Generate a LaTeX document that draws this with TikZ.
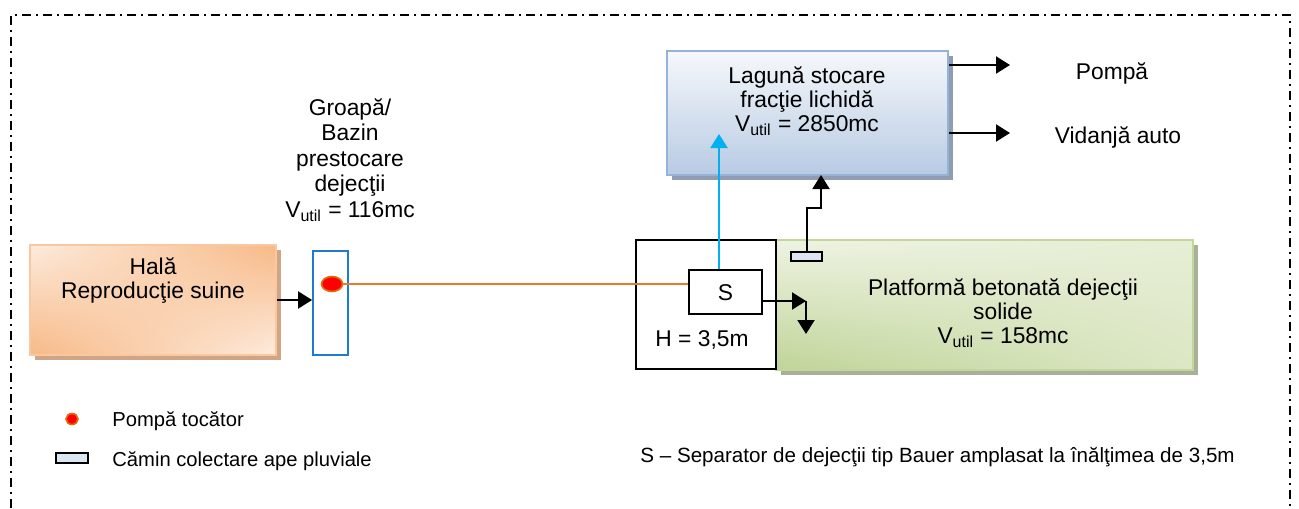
\documentclass[tikz,border=0pt]{standalone}
\usepackage{fontspec}
\setmainfont{Liberation Sans}
\usetikzlibrary{arrows.meta,shadows,shapes.geometric,shadings}
\definecolor{orD}{HTML}{F7B986}
\definecolor{orL}{HTML}{FDEBDD}
\definecolor{orB}{HTML}{F9C8A0}
\definecolor{orS}{HTML}{CFA585}
\definecolor{blT}{HTML}{F6F8FB}
\definecolor{blB}{HTML}{B8CBE3}
\definecolor{blBr}{HTML}{95B3D7}
\definecolor{blS}{HTML}{8E9DB1}
\definecolor{grUL}{HTML}{EEF3E3}
\definecolor{grUR}{HTML}{E6EED5}
\definecolor{grLL}{HTML}{C0D498}
\definecolor{grLR}{HTML}{DCE7C5}
\definecolor{grBr}{HTML}{C3D69B}
\definecolor{grS}{HTML}{A8B09A}
\definecolor{bazB}{HTML}{1F7BCB}
\definecolor{pipe}{HTML}{E87A2E}
\definecolor{sky}{HTML}{00B0F0}
\definecolor{camF}{HTML}{DCE6F2}
\definecolor{pumpB}{HTML}{E46C0A}
\begin{document}
\begin{tikzpicture}[x=0.5pt,y=-0.5pt,
  tip/.style={-{Triangle[length=7pt,width=8.5pt]}},
  arr/.style={tip, line width=1pt, black},
  plain/.style={draw, rectangle, inner sep=0pt},
  bigtxt/.style={align=center, font=\fontsize{11.4}{12}\selectfont, inner sep=0pt},
  smalltxt/.style={font=\fontsize{10.1}{12}\selectfont, inner sep=0pt},
  frame/.style={line width=1pt, dash pattern=on 4.5pt off 2.5pt on 1pt off 2.5pt},
  pump/.style={ellipse, draw=pumpB, fill=red, line width=0.8pt, inner sep=0pt},
  camin/.style={rectangle, draw=black, fill=camF, line width=0.8pt, inner sep=0pt}]
\useasboundingbox (0,0) rectangle (1299,508);

% frame
\draw[frame] (11,508) -- (11,15) -- (1290,15) -- (1290,508);

% Hala
\node[plain, draw=orB, line width=0.8pt, upper left=orL, upper right=orD, lower left=orD, lower right=orL,
      minimum width=123pt, minimum height=55pt,
      drop shadow={shadow xshift=2.5pt, shadow yshift=-2.5pt, fill=orS, opacity=1}] (hala) at (153,300) {};
\node[bigtxt] at (153,281) {Hală\\Reproducţie suine};

% Bazin
\node[plain, draw=bazB, fill=white, line width=0.9pt, minimum width=17.5pt, minimum height=52pt] (bazin) at (330.5,303) {};
\node[pump, minimum width=10.5pt, minimum height=7.5pt] (dot) at (332,284) {};
\node[bigtxt, font=\fontsize{11.4}{12.7}\selectfont] at (350,160) {Groapă/\\Bazin\\prestocare\\dejecţii\\V\textsubscript{util} = 116mc};

% Laguna
\node[plain, draw=blBr, line width=0.9pt, top color=blT, bottom color=blB,
      minimum width=140.5pt, minimum height=62pt,
      drop shadow={shadow xshift=2.5pt, shadow yshift=-2.5pt, fill=blS, opacity=1}] (lag) at (807.5,113) {};
\node[bigtxt] at (807,101.5) {Lagună stocare\\fracţie lichidă\\V\textsubscript{util} = 2850mc};

% Platforma
\node[plain, draw=grBr, line width=0.9pt, upper left=grUL, upper right=grUR, lower left=grLL, lower right=grLR,
      minimum width=208.5pt, minimum height=65pt,
      drop shadow={shadow xshift=2.5pt, shadow yshift=-2.5pt, fill=grS, opacity=1}] (plat) at (984.5,305) {};
\node[bigtxt] at (1003,313) {Platformă betonată dejecţii\\solide\\V\textsubscript{util} = 158mc};

% H box and separator
\node[plain, fill=white, line width=0.8pt, minimum width=70pt, minimum height=64.5pt] (hbox) at (706,304.5) {};
\node[plain, fill=white, line width=0.8pt, minimum width=36.5pt, minimum height=22pt] (sbox) at (725.5,292) {};
\node[bigtxt] at (725.5,293) {S};
\node[bigtxt] at (702,340) {H = 3,5m};

% camin
\node[camin, minimum width=15.5pt, minimum height=4.5pt] (cam) at (806.5,256.5) {};

% connectors
\draw[arr] (hala.east |- 0,300) -- (bazin.west |- 0,300);
\draw[pipe, line width=0.8pt] (dot.east) -- (sbox.west |- dot.east);
\coordinate (blueTip) at (719,134);
\draw[sky, line width=1pt, tip] (sbox.north -| blueTip) -- (blueTip);
\coordinate (pTip) at (1010,65);
\coordinate (vTip) at (1010,133);
\draw[arr] (pTip -| lag.east) -- (pTip);
\draw[arr] (vTip -| lag.east) -- (vTip);
\coordinate (cTip) at (821,175);
\draw[arr] (cam.north) -- ++(0,-43) -| (cTip);
\coordinate (sTip) at (806,301);
\coordinate (dTip) at (806,334);
\draw[arr] (sbox.east |- sTip) -- (sTip);
\draw[arr] (sTip) -- (dTip);

\node[bigtxt] at (1112,73) {Pompă};
\node[bigtxt] at (1118,137) {Vidanjă auto};

% legend
\node[pump, minimum width=6pt, minimum height=5.5pt] (ldot) at (72,419) {};
\node[smalltxt, anchor=west] at (112,421) {Pompă tocător};
\node[camin, minimum width=16pt, minimum height=5pt] (lcam) at (72,458) {};
\node[smalltxt, anchor=west] at (112,461) {Cămin colectare ape pluviale};
\node[smalltxt, font=\fontsize{10.3}{12}\selectfont, anchor=west] at (640,457) {S – Separator de dejecţii tip Bauer amplasat la înălţimea de 3,5m};
\end{tikzpicture}
\end{document}
